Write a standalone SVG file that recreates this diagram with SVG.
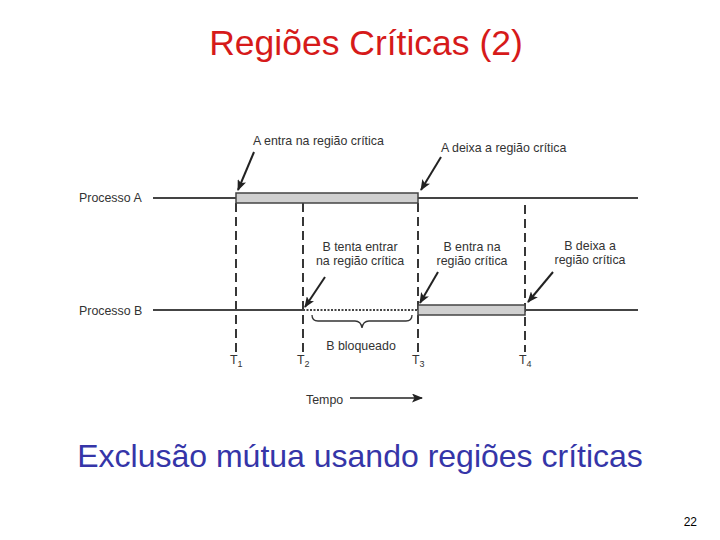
<svg xmlns="http://www.w3.org/2000/svg" width="720" height="540" viewBox="0 0 720 540">
<style>
.lbl{font-family:"Liberation Sans",Arial,sans-serif;font-size:12.4px;fill:#333}
.sub{font-family:"Liberation Sans",Arial,sans-serif;font-size:9px;fill:#333}
.line{stroke:#444;stroke-width:2;fill:none}
.dash{stroke:#222;stroke-width:1.8;stroke-dasharray:9,5;fill:none}
.bar{fill:#d0d0d0;stroke:#444;stroke-width:1.5}
.arr{stroke:#222;stroke-width:2;fill:none;marker-end:url(#ah)}
</style>
<defs>
<marker id="ah" markerWidth="11" markerHeight="9" refX="10" refY="4.5" orient="auto" markerUnits="userSpaceOnUse">
<path d="M0,0 L11,4.5 L0,9 L2.5,4.5 Z" fill="#222"/>
</marker>
</defs>
<rect width="720" height="540" fill="#fff"/>
<text x="366" y="55" text-anchor="middle" font-family="Liberation Sans,Arial,sans-serif" font-size="35.5" fill="#d61a1a">Regiões Críticas (2)</text>

<g id="connectors">
<line class="dash" x1="236" y1="203" x2="236" y2="352"/>
<line class="dash" x1="303" y1="203" x2="303" y2="352"/>
<line class="dash" x1="418" y1="203" x2="418" y2="352"/>
<line class="dash" x1="525" y1="205" x2="525" y2="352"/>
<line class="arr" x1="254" y1="152" x2="238" y2="190"/>
<line class="arr" x1="441" y1="157" x2="421" y2="190"/>
<line class="arr" x1="325" y1="277" x2="305" y2="307"/>
<line class="arr" x1="438" y1="272" x2="420" y2="303"/>
<line class="arr" x1="553" y1="272" x2="528" y2="302"/>
<line x1="350" y1="398" x2="422" y2="398" stroke="#222" stroke-width="1.5" marker-end="url(#ah)"/>
</g>

<g id="processoA">
<text class="lbl" x="79" y="202">Processo A</text>
<line class="line" x1="153" y1="198" x2="638" y2="198"/>
<rect class="bar" x="236" y="193" width="182" height="10"/>
</g>

<g id="processoB">
<text class="lbl" x="79" y="315">Processo B</text>
<line class="line" x1="153" y1="310" x2="303" y2="310"/>
<line x1="303" y1="310" x2="418" y2="310" stroke="#444" stroke-width="2" stroke-dasharray="2,1.5"/>
<rect class="bar" x="418" y="305" width="107" height="10"/>
<line class="line" x1="525" y1="310" x2="638" y2="310"/>
</g>

<g id="label-a-entra"><text class="lbl" x="253" y="145">A entra na região crítica</text></g>
<g id="label-a-deixa"><text class="lbl" x="441" y="152">A deixa a região crítica</text></g>
<g id="label-b-tenta"><text class="lbl" text-anchor="middle"><tspan x="360" y="251">B tenta entrar</tspan><tspan x="360" y="265">na região crítica</tspan></text></g>
<g id="label-b-entra"><text class="lbl" text-anchor="middle"><tspan x="472" y="251">B entra na</tspan><tspan x="472" y="265">região crítica</tspan></text></g>
<g id="label-b-deixa"><text class="lbl" text-anchor="middle"><tspan x="590" y="250">B deixa a</tspan><tspan x="590" y="264">região crítica</tspan></text></g>

<g id="brace">
<path d="M312,315 Q312,321 318,321 L355,321 Q361,321 362,328 Q363,321 369,321 L406,321 Q412,321 412,315" stroke="#333" stroke-width="1.3" fill="none"/>
<text class="lbl" x="361" y="350" text-anchor="middle">B bloqueado</text>
</g>

<g id="times">
<text class="lbl" x="230" y="364">T<tspan class="sub" dy="3">1</tspan></text>
<text class="lbl" x="297" y="364">T<tspan class="sub" dy="3">2</tspan></text>
<text class="lbl" x="412" y="364">T<tspan class="sub" dy="3">3</tspan></text>
<text class="lbl" x="519" y="364">T<tspan class="sub" dy="3">4</tspan></text>
<text class="lbl" x="306" y="404">Tempo</text>
</g>

<text x="360" y="467" text-anchor="middle" font-family="Liberation Sans,Arial,sans-serif" font-size="32" fill="#3535a8">Exclusão mútua usando regiões críticas</text>
<text x="697" y="526" text-anchor="end" font-family="Liberation Sans,Arial,sans-serif" font-size="12" fill="#000">22</text>
</svg>
